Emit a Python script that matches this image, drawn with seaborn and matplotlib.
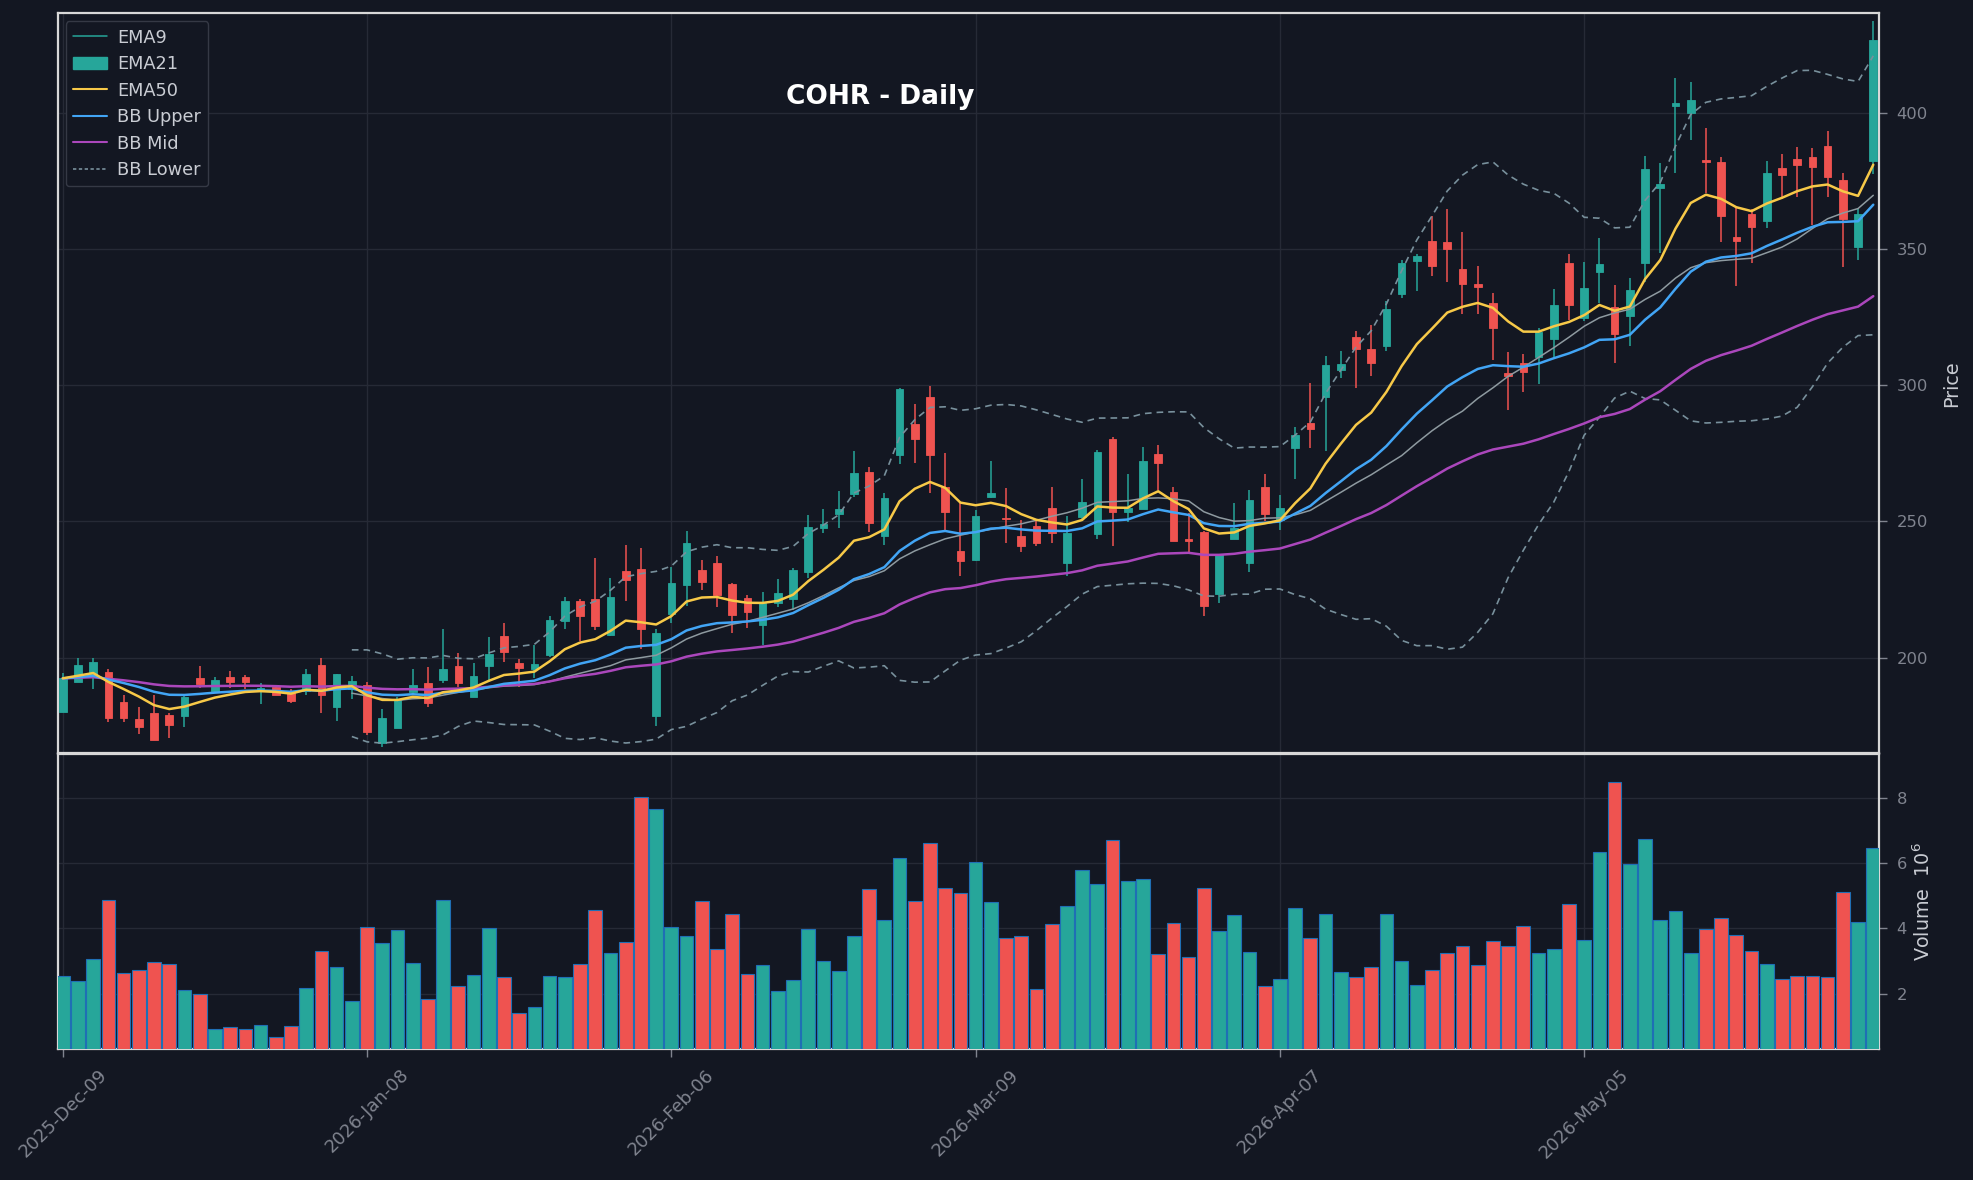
import numpy as np
import pandas as pd
import matplotlib
matplotlib.use("Agg")
import matplotlib.pyplot as plt
import seaborn as sns
from matplotlib.lines import Line2D
from matplotlib.patches import Patch

# ---------------- data ----------------
tick_pos = [0, 20, 40, 60, 80, 100]
tick_labels = ["2025-Dec-09", "2026-Jan-08", "2026-Feb-06",
               "2026-Mar-09", "2026-Apr-07", "2026-May-05"]

opens = [180.2, 190.9, 193.7, 194.8, 183.8, 177.5, 179.6, 179.0, 178.4, 192.6,
         187.7, 192.9, 192.9, 187.9, 189.1, 186.9, 187.7, 197.3, 182.0, 188.4,
         190.0, 168.5, 174.0, 187.5, 190.7, 191.9, 196.9, 185.7, 197.1, 207.9,
         198.0, 195.8, 201.0, 213.6, 220.8, 221.5, 208.3, 231.8, 232.4, 178.7,
         216.0, 226.5, 232.2, 234.8, 227.1, 221.9, 212.0, 220.2, 221.7, 231.6,
         247.7, 252.8, 260.1, 268.1, 244.8, 274.5, 285.8, 295.7, 262.7, 239.2,
         235.9, 258.8, 251.3, 244.7, 248.4, 254.8, 234.9, 251.5, 245.5, 280.3,
         253.5, 254.6, 274.8, 260.7, 243.6, 246.2, 223.4, 243.7, 234.6, 262.7,
         250.6, 276.8, 286.2, 295.6, 305.5, 317.7, 313.3, 314.5, 333.4, 345.7,
         352.9, 352.5, 342.7, 337.2, 330.3, 304.6, 308.2, 310.2, 316.8, 344.9,
         324.6, 341.4, 328.7, 325.4, 344.7, 372.6, 402.6, 399.8, 382.6, 381.9,
         354.4, 362.8, 360.4, 379.8, 383.0, 383.8, 387.8, 375.4, 350.6, 382.4]
highs = [194.5, 199.7, 199.7, 195.7, 186.1, 182.0, 186.1, 179.5, 186.8, 196.9,
         192.8, 195.0, 193.5, 190.6, 189.6, 188.4, 195.7, 199.7, 194.0, 193.1,
         190.9, 181.0, 185.7, 195.7, 196.4, 210.4, 201.6, 197.9, 207.7, 212.8,
         199.6, 204.5, 215.3, 222.4, 221.6, 236.7, 229.1, 241.2, 240.1, 210.6,
         233.3, 246.6, 235.8, 237.2, 227.3, 222.9, 224.0, 228.8, 232.8, 252.3,
         254.7, 261.0, 276.0, 270.1, 260.6, 299.0, 293.0, 299.9, 275.0, 256.7,
         254.1, 272.3, 262.4, 250.6, 250.6, 262.5, 252.1, 265.5, 276.2, 280.9,
         267.3, 277.2, 278.2, 262.5, 253.0, 246.5, 238.0, 256.7, 261.5, 267.3,
         259.6, 284.6, 300.8, 310.6, 312.7, 319.8, 322.3, 331.0, 345.9, 348.2,
         362.2, 364.7, 356.4, 343.6, 333.8, 312.2, 311.4, 320.9, 335.2, 348.1,
         345.1, 354.0, 336.9, 339.2, 384.3, 381.7, 412.7, 411.4, 394.6, 383.8,
         365.4, 364.7, 382.2, 384.8, 387.3, 387.0, 393.2, 378.1, 364.7, 433.6]
lows = [180.0, 190.9, 188.4, 176.3, 176.5, 171.9, 169.7, 170.4, 174.5, 189.0,
        187.4, 189.0, 188.4, 183.1, 186.3, 183.5, 186.4, 179.6, 176.8, 184.7,
        171.5, 167.1, 174.0, 186.5, 182.0, 190.6, 189.3, 185.7, 191.8, 198.3,
        189.1, 192.4, 200.4, 210.4, 206.2, 210.1, 207.9, 220.8, 203.2, 174.9,
        212.6, 219.1, 224.7, 218.5, 209.0, 210.8, 204.5, 218.7, 217.5, 229.1,
        245.9, 247.5, 258.9, 246.3, 241.4, 271.2, 271.4, 260.4, 246.9, 229.8,
        235.6, 258.5, 242.2, 238.7, 240.8, 242.2, 229.8, 250.6, 243.5, 240.8,
        249.7, 254.6, 261.6, 242.8, 238.9, 215.1, 220.0, 243.7, 231.4, 250.0,
        246.8, 265.5, 277.0, 275.7, 302.6, 299.1, 303.5, 312.4, 332.1, 334.7,
        340.2, 337.9, 326.2, 326.2, 309.2, 290.8, 297.7, 300.6, 310.3, 324.1,
        323.5, 330.3, 308.0, 314.5, 337.9, 348.6, 378.1, 389.9, 370.6, 352.6,
        336.3, 344.8, 357.8, 368.3, 369.1, 358.8, 369.1, 343.4, 346.1, 377.5]
closes = [192.4, 197.2, 198.3, 178.0, 178.0, 174.7, 169.9, 175.4, 185.6, 190.5,
          191.8, 190.9, 191.2, 188.9, 186.3, 184.2, 194.0, 186.1, 194.0, 191.5,
          172.8, 177.7, 184.4, 190.0, 183.5, 195.8, 190.6, 193.3, 201.3, 202.2,
          196.3, 197.7, 213.8, 220.8, 215.3, 211.7, 222.1, 228.6, 210.6, 208.9,
          227.5, 242.1, 227.9, 223.0, 215.7, 216.9, 219.9, 223.8, 232.2, 248.0,
          248.9, 254.6, 267.7, 249.5, 258.5, 298.7, 280.4, 274.5, 253.6, 235.3,
          252.0, 260.4, 250.9, 240.8, 242.2, 245.9, 245.8, 257.2, 275.4, 253.3,
          254.8, 272.2, 271.6, 242.8, 243.0, 219.1, 238.0, 247.6, 257.9, 252.9,
          255.0, 281.9, 283.8, 307.4, 307.8, 313.2, 308.0, 328.0, 344.9, 347.4,
          343.6, 350.2, 337.3, 335.9, 321.2, 303.5, 304.7, 319.6, 329.5, 329.6,
          335.8, 344.4, 318.9, 335.0, 379.4, 373.9, 403.6, 404.6, 382.1, 362.3,
          353.1, 358.2, 377.9, 377.2, 381.0, 380.0, 376.5, 361.2, 362.8, 426.8]
volumes = [2.53, 2.38, 3.06, 4.85, 2.63, 2.71, 2.97, 2.90, 2.10, 1.98,
           0.91, 0.99, 0.93, 1.05, 0.68, 1.02, 2.16, 3.31, 2.81, 1.79,
           4.05, 3.55, 3.95, 2.95, 1.83, 4.85, 2.23, 2.57, 4.01, 2.50,
           1.42, 1.58, 2.53, 2.50, 2.90, 4.57, 3.24, 3.58, 8.02, 7.65,
           4.05, 3.77, 4.82, 3.37, 4.45, 2.60, 2.87, 2.07, 2.41, 3.98,
           3.00, 2.69, 3.77, 5.19, 4.26, 6.14, 4.82, 6.60, 5.22, 5.09,
           6.02, 4.80, 3.69, 3.75, 2.13, 4.13, 4.69, 5.79, 5.36, 6.69,
           5.46, 5.52, 3.21, 4.15, 3.11, 5.24, 3.92, 4.41, 3.27, 2.25,
           2.44, 4.63, 3.69, 4.44, 2.66, 2.50, 2.83, 4.44, 3.00, 2.28,
           2.72, 3.24, 3.45, 2.89, 3.61, 3.45, 4.07, 3.24, 3.36, 4.75,
           3.64, 6.32, 8.47, 5.98, 6.72, 4.26, 4.53, 3.24, 3.97, 4.31,
           3.79, 3.30, 2.90, 2.46, 2.53, 2.55, 2.52, 5.11, 4.19, 6.47]

legend_labels = ["EMA9", "EMA21", "EMA50", "BB Upper", "BB Mid", "BB Lower"]

# ---------------- styling ----------------
BG = "#131722"
UP = "#26a69a"
DOWN = "#ef5350"
GRID = "#262a36"
SPINE = "#d8d8d8"
TICK = "#80848f"
LABEL = "#c9ccd3"
C_EMA9 = "#f7c948"
C_EMA21 = "#42a5f5"
C_EMA50 = "#ab47bc"
C_MID = "#8e9aa0"
C_BAND = "#78909c"

sns.set_theme(style="dark", rc={
    "figure.facecolor": BG, "axes.facecolor": BG, "savefig.facecolor": BG,
    "axes.edgecolor": SPINE, "grid.color": GRID, "text.color": LABEL,
    "xtick.color": TICK, "ytick.color": TICK, "axes.labelcolor": LABEL,
})
plt.rcParams["font.family"] = ["DejaVu Sans"]

df = pd.DataFrame({"i": np.arange(len(closes)), "open": opens, "high": highs,
                   "low": lows, "close": closes, "volume": volumes})
df["ema9"] = df["close"].ewm(span=9, adjust=False).mean()
df["ema21"] = df["close"].ewm(span=21, adjust=False).mean()
df["ema50"] = df["close"].ewm(span=50, adjust=False).mean()
df["bb_mid"] = df["close"].rolling(20).mean()
sd = df["close"].rolling(20).std()
df["bb_up"] = df["bb_mid"] + 2 * sd
df["bb_lo"] = df["bb_mid"] - 2 * sd
df["up"] = df["close"] >= df["open"]
colors = np.where(df["up"], UP, DOWN)

fig = plt.figure(figsize=(19.73, 11.80), dpi=100)
ax = fig.add_axes([0.02935, 0.3619, 0.9228, 0.6267])
axv = fig.add_axes([0.02935, 0.1108, 0.9228, 0.2502], sharex=ax)

# candles
ax.vlines(df["i"], df["low"], df["high"], colors=colors, linewidth=1.1, zorder=2)
body_bottom = np.minimum(df["open"], df["close"])
body_h = np.maximum(np.abs(df["close"] - df["open"]), 0.4)
ax.bar(df["i"], body_h, bottom=body_bottom, width=0.5, color=colors,
       edgecolor=colors, linewidth=0.6, zorder=3)

# indicator lines
sns.lineplot(data=df, x="i", y="bb_up", ax=ax, color=C_BAND, linewidth=1.2,
             linestyle=(0, (4, 3)), legend=False, zorder=4)
sns.lineplot(data=df, x="i", y="bb_lo", ax=ax, color=C_BAND, linewidth=1.2,
             linestyle=(0, (4, 3)), legend=False, zorder=4)
sns.lineplot(data=df, x="i", y="bb_mid", ax=ax, color=C_MID, linewidth=1.1,
             legend=False, zorder=4)
sns.lineplot(data=df, x="i", y="ema50", ax=ax, color=C_EMA50, linewidth=1.8,
             legend=False, zorder=5)
sns.lineplot(data=df, x="i", y="ema21", ax=ax, color=C_EMA21, linewidth=1.8,
             legend=False, zorder=5)
sns.lineplot(data=df, x="i", y="ema9", ax=ax, color=C_EMA9, linewidth=1.8,
             legend=False, zorder=6)

# volume
axv.bar(df["i"], df["volume"], width=0.9, color=colors, edgecolor="#1f6fb5",
        linewidth=0.8, zorder=3)

# axes limits / ticks
ax.set_xlim(-0.32, 119.35)
ax.set_ylim(165.0, 436.5)
axv.set_ylim(0.30, 9.33)

for a in (ax, axv):
    a.grid(True, color=GRID, linewidth=1.0)
    a.set_axisbelow(True)
    a.yaxis.tick_right()
    a.yaxis.set_label_position("right")
    for s in a.spines.values():
        s.set_color(SPINE)
        s.set_linewidth(1.6)
        s.set_visible(True)
    a.tick_params(axis="y", which="both", right=True, left=False, length=6,
                  width=1, color=TICK, labelcolor=TICK, labelsize=11.8, pad=7)
    a.set_xlabel("")

ax.set_yticks([200, 250, 300, 350, 400])
axv.set_yticks([2, 4, 6, 8])
ax.set_xticks(tick_pos)
ax.tick_params(axis="x", which="both", bottom=False, labelbottom=False)
axv.set_xticks(tick_pos)
axv.set_xticklabels(tick_labels, rotation=45, ha="center")
axv.tick_params(axis="x", bottom=True, length=6, width=1, color=TICK,
                labelcolor=TICK, labelsize=13, pad=6)

ax.set_ylabel("Price", color=LABEL, fontsize=13.8, labelpad=10)
axv.set_ylabel("Volume  $10^{6}$", color=LABEL, fontsize=13.8, labelpad=4)

# legend
handles = [Line2D([0], [0], color=UP, linewidth=1.1),
           Patch(facecolor=UP, edgecolor=UP),
           Line2D([0], [0], color=C_EMA9, linewidth=1.5),
           Line2D([0], [0], color=C_EMA21, linewidth=1.5),
           Line2D([0], [0], color=C_EMA50, linewidth=1.5),
           Line2D([0], [0], color=C_BAND, linewidth=1.2, linestyle=(0, (2, 1.5)))]
leg = ax.legend(handles, legend_labels, loc="upper left", fontsize=12.8,
                frameon=True, facecolor=BG, edgecolor="#353945",
                framealpha=1.0, labelcolor=LABEL, borderaxespad=0.45,
                handlelength=1.9, handletextpad=0.6, labelspacing=0.48)

fig.text(0.4464, 0.918, "COHR - Daily", ha="center", va="center",
         color="white", fontsize=19, fontweight="bold")

fig.savefig("out.png", dpi=100, facecolor=BG)
